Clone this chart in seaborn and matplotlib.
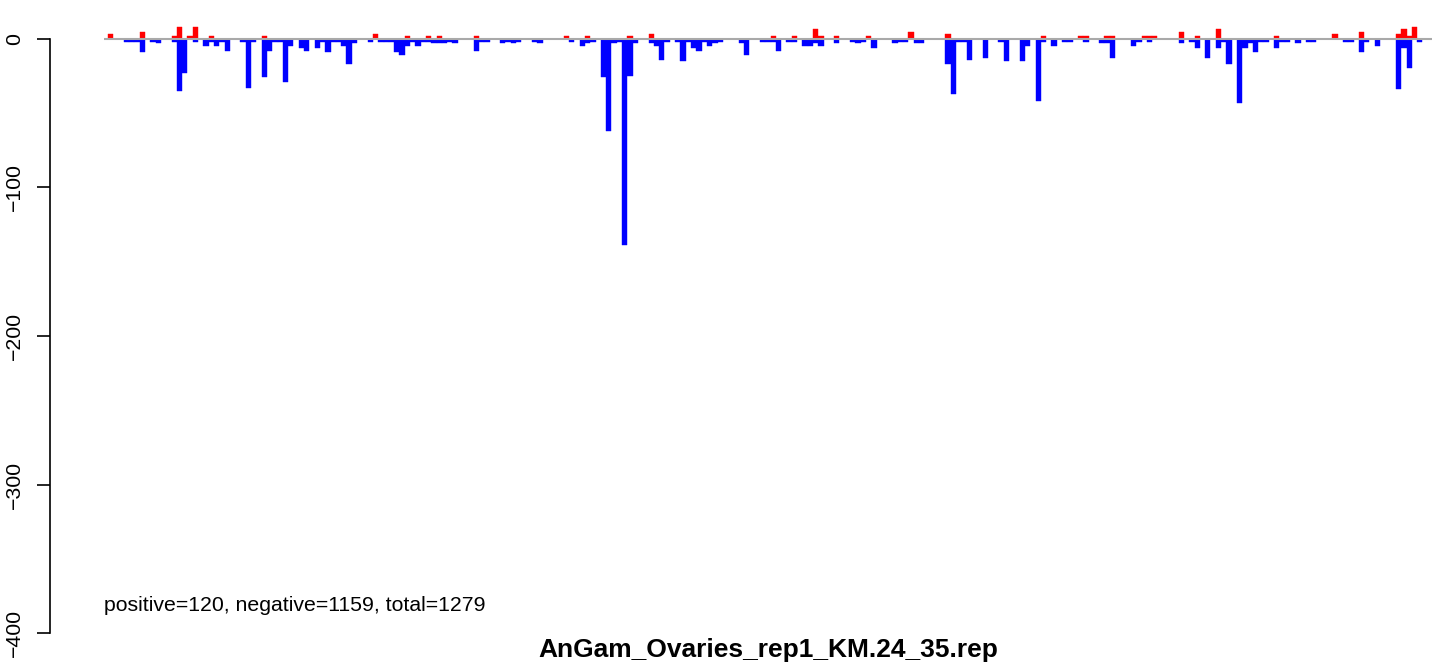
import pandas as pd
import numpy as np
import matplotlib
matplotlib.use("Agg")
import matplotlib.pyplot as plt
import seaborn as sns

# bins with positive counts (red)
pos_bin = [0, 6, 12, 13, 15, 16, 19, 29, 50, 56, 60, 62, 69, 86, 90, 98, 102,
           125, 129, 133, 134, 137, 143, 151, 158, 176, 183, 184, 188, 189,
           195, 196, 197, 202, 205, 209, 220, 231, 236, 243, 244, 245, 246]
pos_val = [3.4, 4.5, 2, 8, 2, 8, 2, 2, 3.4, 2, 2, 2, 2, 2, 2, 2, 3.4,
           2, 2, 6.5, 2, 2, 2, 4.5, 3.4, 2, 2, 2, 2, 2,
           2, 2, 2, 4.5, 2, 6.5, 2, 3.4, 4.5, 3.4, 6.5, 2, 8]

# bins with negative counts (blue)
neg_bin = [3, 4, 5, 6, 8, 9, 12, 13, 14, 16, 18, 19, 20, 21, 22, 25, 26, 27,
           29, 30, 31, 32, 33, 34, 36, 37, 39, 40, 41, 42, 43, 44, 45, 46, 49,
           51, 52, 53, 54, 55, 56, 57, 58, 59, 60, 61, 62, 63, 64, 65, 69, 70,
           71, 74, 75, 76, 77, 80, 81, 87, 89, 90, 91, 93, 94, 95, 96, 97, 98,
           99, 102, 103, 104, 105, 107, 108, 109, 110, 111, 112, 113, 114, 115,
           119, 120, 123, 124, 125, 126, 128, 129, 131, 132, 133, 134, 137,
           140, 141, 142, 144, 148, 149, 150, 152, 153, 158, 159, 160, 161,
           162, 165, 168, 169, 172, 173, 175, 176, 178, 180, 181, 184, 187,
           188, 189, 193, 194, 196, 202, 204, 205, 207, 209, 210, 211, 213,
           214, 215, 216, 217, 218, 220, 221, 222, 224, 226, 227, 233, 234,
           236, 237, 239, 243, 244, 245, 247]
neg_val = [-2, -2, -2, -9, -2, -3, -2, -35, -23, -2, -5, -2, -5, -2, -8, -2, -33, -2,
           -26, -8, -2, -2, -29, -5, -6, -8, -6, -2, -9, -2, -2, -5, -17, -3, -2,
           -2, -2, -2, -9, -11, -5, -2, -5, -2, -2, -3, -3, -3, -2, -3, -8, -2,
           -2, -3, -2, -3, -2, -2, -3, -2, -5, -3, -2, -26, -62, -3, -2, -139, -25,
           -3, -3, -5, -14, -2, -2, -15, -2, -6, -8, -2, -5, -3, -2,
           -3, -11, -2, -2, -2, -8, -2, -2, -5, -5, -3, -5, -3,
           -2, -3, -2, -6, -3, -2, -2, -3, -3, -17, -37, -2, -2,
           -14, -13, -2, -15, -15, -5, -42, -2, -5, -2, -2, -2, -3,
           -3, -13, -5, -2, -2, -3, -2, -6, -13, -6, -2, -17, -43,
           -6, -3, -9, -2, -2, -6, -2, -2, -3, -2, -2, -2, -2,
           -9, -2, -5, -34, -6, -20, -2]

yticks = [0, -100, -200, -300, -400]
title = "AnGam_Ovaries_rep1_KM.24_35.rep"
summary = "positive=120, negative=1159, total=1279"

df_pos = pd.DataFrame({"bin": pos_bin, "value": pos_val})
df_neg = pd.DataFrame({"bin": neg_bin, "value": neg_val})

sns.set_style("white")
plt.rcParams["font.family"] = ["Liberation Sans", "DejaVu Sans"]
plt.rcParams["text.color"] = "black"
plt.rcParams["ytick.color"] = "black"
plt.rcParams["axes.labelcolor"] = "black"

fig = plt.figure(figsize=(14.44, 6.66), dpi=100)
ax = fig.add_axes([0.072, 0.027, 0.9197, 0.9662])

sns.barplot(data=df_pos, x="bin", y="value", native_scale=True, width=1,
            color="#FF0000", saturation=1, errorbar=None,
            linewidth=0.3, edgecolor="#FF0000", ax=ax)
sns.barplot(data=df_neg, x="bin", y="value", native_scale=True, width=1,
            color="#0000FF", saturation=1, errorbar=None,
            linewidth=0.3, edgecolor="#0000FF", ax=ax)
# zero line on top of the bars
ax.axhline(0, color="#A9A9A9", lw=1.5, zorder=5)

ax.set_xlim(-1.25, 249.3)
ax.set_ylim(-410, 23)
ax.set_xticks([])
ax.set_xlabel("")
ax.set_ylabel("")

for s in ["top", "right", "bottom"]:
    ax.spines[s].set_visible(False)
ax.spines["left"].set_position(("outward", 38.9))
ax.spines["left"].set_bounds(-400, 0)
ax.spines["left"].set_linewidth(1.2)
ax.spines["left"].set_color("black")
ax.set_yticks(yticks)
ax.set_yticklabels([str(t).replace("-", "\u2212") for t in yticks],
                   rotation=90, va="center", fontsize=15.3, color="black")
ax.tick_params(axis="y", length=9.4, width=1.2, pad=9, color="black",
               left=True)

ax.text(0, -385.2, summary, transform=ax.get_yaxis_transform(),
        ha="left", va="baseline", fontsize=15.3, color="black")
fig.text(768 / 1444, 1 - 657 / 666, title, ha="center", va="baseline",
         fontsize=19, fontweight="bold", color="black")

fig.savefig("out.png", dpi=100)
